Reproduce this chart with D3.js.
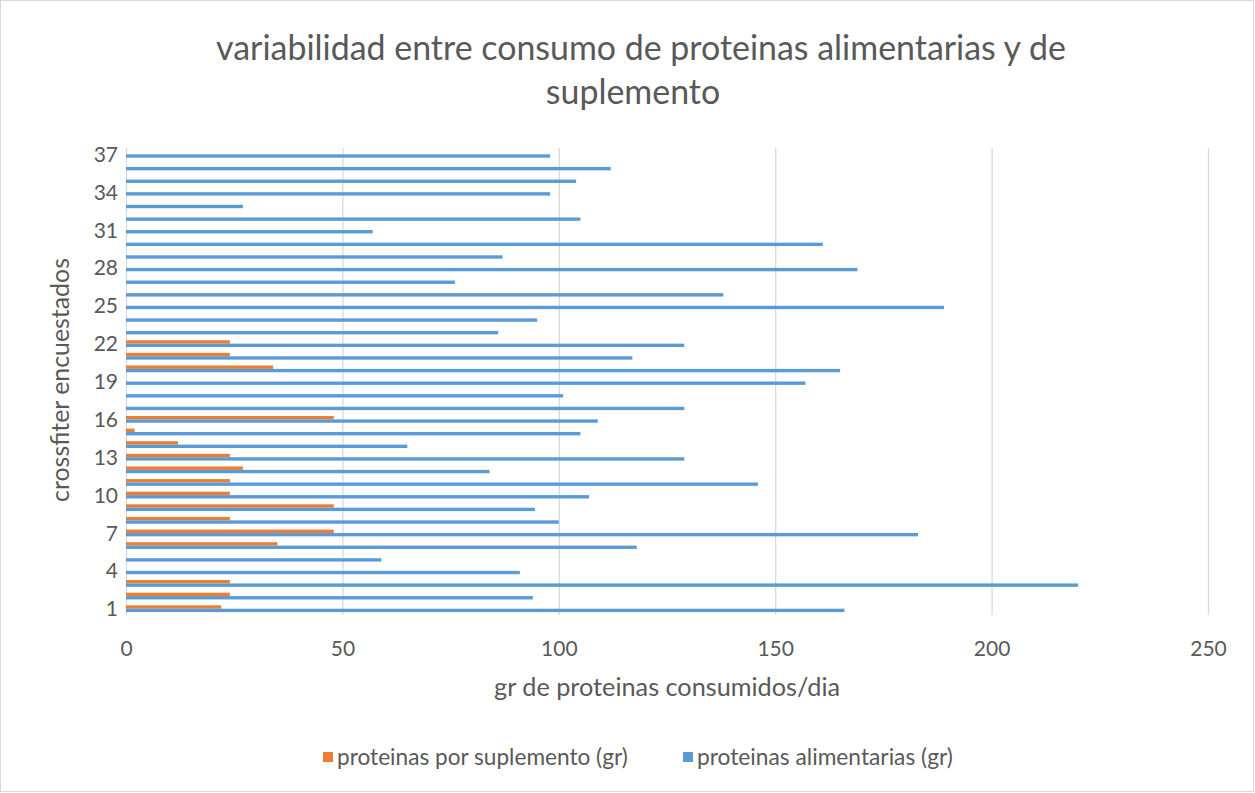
<!DOCTYPE html>
<html>
<head>
<meta charset="utf-8">
<script src="https://cdn.jsdelivr.net/npm/d3@7"></script>
<style>
  html, body { margin: 0; padding: 0; background: #ffffff; }
  svg { display: block; }
  text { font-family: Lato, "Open Sans", sans-serif; fill: #595959; }
</style>
</head>
<body>
<svg id="chart" width="1255" height="793"></svg>
<script>
// Survey respondents (crossfit athletes), numbered 1..37
const encuestados = [1,2,3,4,5,6,7,8,9,10,11,12,13,14,15,16,17,18,19,20,21,22,23,24,25,26,27,28,29,30,31,32,33,34,35,36,37];

// Protein from supplements (g/day)
const proteinasSuplemento = [22,24,24,0,0,35,48,24,48,24,24,27,24,12,2,48,0,0,0,34,24,24,0,0,0,0,0,0,0,0,0,0,0,0,0,0,0];

// Protein from food (g/day)
const proteinasAlimentarias = [166,94,220,91,59,118,183,100,94.5,107,146,84,129,65,105,109,129,101,157,165,117,129,86,95,189,138,76,169,87,161,57,105,27,98,104,112,98];

// Axis tick labels
const xTicks = [0,50,100,150,200,250];
const yTickLabels = [1,4,7,10,13,16,19,22,25,28,31,34,37];

const seriesNames = ["proteinas por suplemento (gr)", "proteinas alimentarias (gr)"];
const seriesColors = ["#ED7D31", "#5B9BD5"];

const svg = d3.select("#chart");
const W = 1255, H = 793;
const plot = { left: 126, right: 1208, top: 148, bottom: 615 };

// outer chart border
svg.append("rect")
  .attr("x", 0.5).attr("y", 0.5)
  .attr("width", W - 2).attr("height", H - 2)
  .attr("fill", "#ffffff").attr("stroke", "#d9d9d9").attr("stroke-width", 1);

const x = d3.scaleLinear().domain([0, 250]).range([plot.left, plot.right]);
const y = d3.scaleBand().domain(encuestados).range([plot.bottom, plot.top]).padding(0);
const ySub = d3.scaleBand().domain([0, 1]).range([0, y.bandwidth()])
  .paddingInner(0).paddingOuter(0.86);

// vertical gridlines
const grid = svg.append("g")
  .attr("transform", `translate(0,${plot.bottom})`)
  .call(d3.axisBottom(x).tickValues(xTicks).tickSize(-(plot.bottom - plot.top)).tickFormat(""));
grid.select(".domain").remove();
grid.selectAll(".tick line").attr("stroke", "#d9d9d9").attr("stroke-width", 1.3);

// x tick labels
const xAxis = svg.append("g")
  .attr("transform", `translate(0,${plot.bottom})`)
  .call(d3.axisBottom(x).tickValues(xTicks).tickSize(0).tickPadding(0));
xAxis.select(".domain").remove();
xAxis.selectAll(".tick text")
  .attr("y", 41).attr("dy", 0)
  .attr("font-size", 21).style("fill", "#595959")
  .style("font-family", "Lato, 'Open Sans', sans-serif");

// y tick labels (every third respondent)
const yAxis = svg.append("g")
  .attr("transform", `translate(${plot.left},0)`)
  .call(d3.axisLeft(y).tickValues(yTickLabels).tickSize(0).tickPadding(8));
yAxis.select(".domain").remove();
yAxis.selectAll(".tick text")
  .attr("dy", "0.36em")
  .attr("font-size", 21).style("fill", "#595959")
  .style("font-family", "Lato, 'Open Sans', sans-serif");

// bars
const seriesData = [proteinasSuplemento, proteinasAlimentarias];
seriesData.forEach((vals, s) => {
  svg.append("g").selectAll("rect")
    .data(encuestados)
    .join("rect")
    .attr("x", x(0))
    .attr("y", (d) => y(d) + ySub(s))
    .attr("width", (d, i) => x(vals[i]) - x(0))
    .attr("height", ySub.bandwidth())
    .attr("fill", seriesColors[s]);
});

function fit(sel, target) {
  const w = sel.node().getComputedTextLength();
  const fs = parseFloat(sel.attr("font-size"));
  sel.attr("font-size", fs * target / w);
  return fs * target / w;
}

// title
const t1 = svg.append("text").attr("x", 641).attr("y", 60)
  .attr("text-anchor", "middle").attr("font-size", 30)
  .text("variabilidad entre consumo de proteinas alimentarias y de");
const tfs = fit(t1, 850);
svg.append("text").attr("x", 633).attr("y", 104)
  .attr("text-anchor", "middle").attr("font-size", tfs)
  .text("suplemento");

// axis titles
const xt = svg.append("text").attr("x", 667).attr("y", 696)
  .attr("text-anchor", "middle").attr("font-size", 22)
  .text("gr de proteinas consumidos/dia");
fit(xt, 346);

const yt = svg.append("text")
  .attr("transform", "translate(69,380) rotate(-90)")
  .attr("text-anchor", "middle").attr("font-size", 22)
  .text("crossfiter encuestados");
fit(yt, 244);

// legend
const legendX = [323, 683];
const legendW = [291, 256];
seriesNames.forEach((name, i) => {
  svg.append("rect")
    .attr("x", legendX[i]).attr("y", 752)
    .attr("width", 10).attr("height", 10)
    .attr("fill", seriesColors[i]);
  const lt = svg.append("text")
    .attr("x", legendX[i] + 14).attr("y", 765)
    .attr("font-size", 21)
    .text(name);
  fit(lt, legendW[i]);
});
</script>
</body>
</html>
